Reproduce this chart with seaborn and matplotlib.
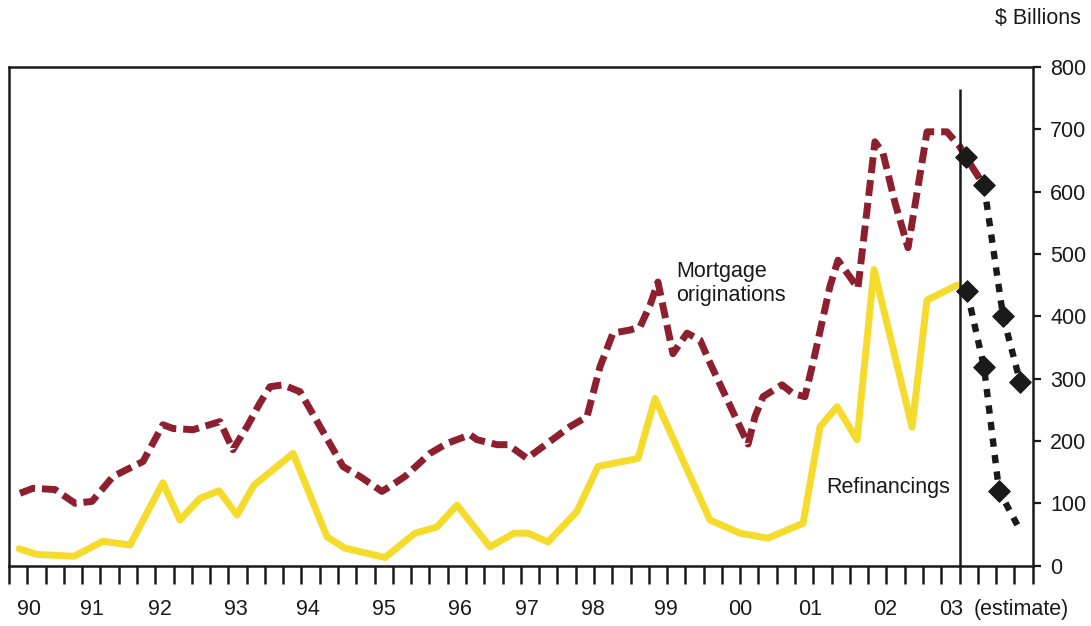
import numpy as np
import matplotlib
matplotlib.use('Agg')
import matplotlib.pyplot as plt
import seaborn as sns

# positions are in quarters from the start of 1990 (tick 0 = 1990 Q1)
refi_q = [0.55, 1.53, 3.56, 5.14, 6.62, 8.42, 9.35, 10.45, 11.49, 12.47, 13.40,
          15.54, 17.40, 18.38, 20.57, 22.21, 23.41, 24.51, 26.31, 27.63, 28.39,
          29.49, 31.07, 32.22, 34.41, 35.34, 38.35, 39.99, 41.52, 43.44, 44.37,
          45.30, 46.39, 47.32, 49.40, 50.22, 51.86]
refi_v = [27, 18, 15, 39, 33, 133, 73, 108, 120, 81, 129,
          180, 46, 28, 13, 52, 62, 97, 30, 52, 52,
          38, 87, 159, 172, 268, 73, 52, 44, 68, 223,
          255, 202, 475, 222, 426, 450]

orig_q = [0.60, 1.31, 2.52, 3.61, 4.54, 5.69, 7.33, 8.42, 8.97, 10.07, 11.54,
          12.25, 13.02, 13.73, 14.28, 14.99, 15.92, 18.27, 19.20, 20.40, 20.84,
          21.66, 23.03, 23.96, 25.22, 25.60, 26.70, 27.30, 28.34, 29.21, 30.69,
          31.62, 32.33, 33.04, 33.97, 34.52, 35.07, 35.50, 36.32, 37.09, 37.80,
          38.35, 40.43, 40.81, 41.25, 42.29, 42.89, 43.54, 43.98, 44.91, 45.35,
          46.44, 47.37, 47.81, 48.47, 49.18, 50.22, 51.31, 52.02]
orig_v = [116, 124, 122, 100, 103, 143, 167, 226, 220, 218, 231,
          186, 223, 261, 287, 290, 279, 159, 143, 119, 127,
          143, 180, 196, 210, 202, 194, 194, 172, 191, 223,
          239, 319, 373, 378, 383, 418, 455, 340, 373, 362,
          325, 195, 239, 271, 290, 276, 271, 325, 448, 490,
          445, 680, 662, 582, 510, 696, 696, 672]

# 2003 estimates
est_orig_q = [52.35, 53.34, 54.38, 55.31]
est_orig_v = [655, 610, 400, 295]
est_refi_q = [52.41, 53.34, 54.16, 55.31]
est_refi_v = [440, 318, 120, 57]

year_pos = [1.11, 4.56, 8.24, 12.43, 16.38, 20.53, 24.67, 28.34, 31.95,
            35.94, 39.99, 43.82, 47.95, 51.53, 55.36]
year_labels = ['90', '91', '92', '93', '94', '95', '96', '97', '98',
               '99', '00', '01', '02', '03', '(estimate)']
est_start = 52

YELLOW = '#F5DB2C'
MAROON = '#8E1F2F'
INK = '#1a1a1a'

sns.set_theme(style='white')
plt.rcParams['font.family'] = ['Liberation Sans', 'DejaVu Sans']
plt.rcParams['text.color'] = INK

fig = plt.figure(figsize=(10.91, 6.26), dpi=100)
ax = fig.add_axes([0.00825, 0.0965, 0.9383, 0.7965])

# refinancings (solid yellow), runs into the first estimate
sns.lineplot(x=refi_q + est_refi_q[:1], y=refi_v + est_refi_v[:1], color=YELLOW,
             linewidth=5.0, sort=False, ax=ax, zorder=3)

# estimates, black dotted
sns.lineplot(x=est_orig_q, y=est_orig_v, color=INK, linewidth=4.6,
             linestyle=(0, (1.3, 1.3)), sort=False, ax=ax, zorder=2)
sns.lineplot(x=est_refi_q, y=est_refi_v, color=INK, linewidth=4.6,
             linestyle=(0, (1.3, 1.3)), sort=False, ax=ax, zorder=2)

# mortgage originations (dashed maroon)
sns.lineplot(x=orig_q + est_orig_q[:2], y=orig_v + est_orig_v[:2], color=MAROON,
             linewidth=5.0, linestyle=(0, (2.3, 1.0)), sort=False, ax=ax, zorder=4)

sns.scatterplot(x=est_orig_q, y=est_orig_v, marker='D', s=120, color=INK,
                edgecolor=INK, linewidth=0.8, ax=ax, zorder=6)
sns.scatterplot(x=est_refi_q[:3], y=est_refi_v[:3], marker='D', s=120, color=INK,
                edgecolor=INK, linewidth=0.8, ax=ax, zorder=6)

ax.vlines(est_start, 0, 765, color=INK, linewidth=1.8, zorder=5)

ax.set_xlim(0, 56)
ax.set_ylim(0, 800)

for s in ax.spines.values():
    s.set_visible(True)
    s.set_color(INK)
    s.set_linewidth(1.8)

ax.yaxis.tick_right()
ax.set_yticks(np.arange(0, 801, 100))
ax.tick_params(axis='y', direction='out', length=6, width=1.6, pad=6.5,
               labelsize=15.5, colors=INK, right=True, left=False)

ax.set_xticks(year_pos)
ax.set_xticklabels(year_labels)
ax.set_xticks(np.arange(0, 57), minor=True)
ax.tick_params(axis='x', which='major', length=0, pad=24, labelsize=15.5, colors=INK)
ax.tick_params(axis='x', which='minor', direction='out', length=13, width=1.8,
               color=INK, bottom=True)

ax.set_xlabel('')
ax.set_ylabel('')
ax.grid(False)

ax.text(36.49, 453, 'Mortgage\noriginations', fontsize=15.5, ha='left', va='center')
ax.text(44.69, 125, 'Refinancings', fontsize=15.5, ha='left', va='center')
fig.text(0.991, 0.971, '$ Billions', fontsize=15.5, ha='right', va='center')

fig.savefig('out.png', dpi=100, facecolor='white')
